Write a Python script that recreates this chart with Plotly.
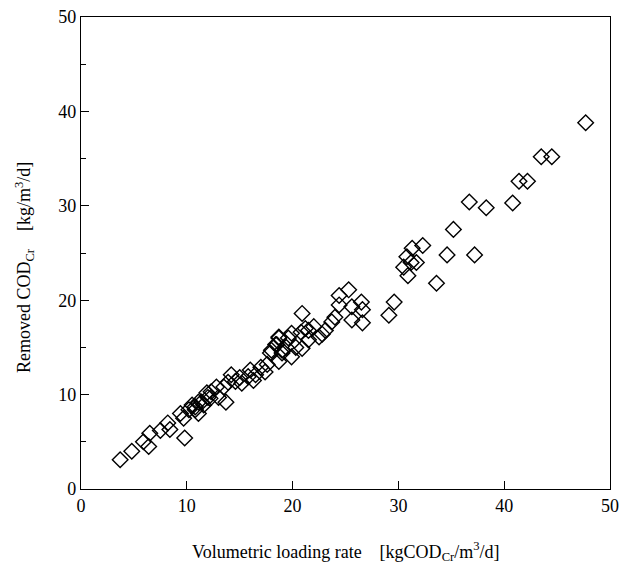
import plotly.graph_objects as go

loading_rate = [
    3.7, 4.8, 5.9, 6.4, 6.5, 7.5, 8.2, 8.4, 9.8, 9.4, 9.7, 10.2, 10.8, 11.1, 11.4, 11.9,
    10.5, 10.8, 11.1, 11.6, 12.0, 12.3, 12.8, 13.0, 13.5, 13.7, 13.9, 14.2, 15.2, 15.8,
    16.3, 16.5, 17.0, 17.4, 17.9, 18.4, 18.7, 18.7, 19.0, 14.6, 15.0, 12.2, 16.0, 17.6,
    18.0, 18.5, 18.7, 19.0, 19.4, 19.6, 19.9, 19.9, 20.3, 20.8, 20.9, 20.9, 21.5, 21.5,
    22.0, 22.5, 23.1, 23.7, 24.0, 24.4, 24.4, 25.3, 25.6, 25.6, 26.5, 26.6, 26.6, 21.2,
    22.8, 29.1, 29.6, 30.5, 30.8, 30.9, 31.2, 31.3, 31.7, 32.3, 33.6, 34.6, 35.2, 36.7,
    37.2, 38.3, 40.8, 41.4, 42.2, 43.5, 44.5, 47.7,
]
removed_cod = [
    3.1, 4.0, 5.0, 4.5, 5.9, 6.2, 7.0, 6.3, 5.4, 8.0, 7.5, 8.4, 8.7, 8.0, 9.2, 10.2,
    8.9, 8.4, 9.2, 8.9, 9.7, 10.3, 10.8, 9.7, 10.8, 9.2, 11.3, 12.1, 11.2, 11.9,
    11.5, 12.1, 12.9, 12.4, 14.4, 15.3, 16.1, 13.5, 14.7, 11.4, 11.8, 9.6, 12.6, 13.2,
    14.7, 15.3, 16.0, 14.4, 15.0, 16.0, 16.5, 14.0, 15.0, 16.6, 18.6, 14.9, 16.8, 15.8,
    17.2, 16.1, 16.8, 17.7, 18.2, 20.5, 19.5, 21.1, 19.3, 17.9, 19.8, 19.0, 17.6, 17.0,
    16.4, 18.4, 19.8, 23.5, 24.6, 22.6, 24.0, 25.5, 24.0, 25.8, 21.8, 24.8, 27.5, 30.4,
    24.8, 29.8, 30.3, 32.6, 32.6, 35.2, 35.2, 38.8,
]

x_ticks = [0, 10, 20, 30, 40, 50]
y_ticks = [0, 10, 20, 30, 40, 50]

FONT = "Liberation Serif, Times New Roman, serif"

fig = go.Figure()
fig.add_trace(go.Scatter(
    x=loading_rate, y=removed_cod, mode="markers",
    marker=dict(symbol="diamond-open", size=12, color="black", line=dict(width=1.4, color="black")),
    showlegend=False, cliponaxis=False,
))

axis_common = dict(
    showgrid=False, zeroline=False, showline=True, linecolor="black", linewidth=1.2,
    mirror=True, ticks="inside", ticklen=8, tickwidth=1, tickcolor="black", automargin=False,
    tickfont=dict(family=FONT, size=18, color="black"),
)
fig.update_xaxes(range=[0, 50], tickvals=x_ticks, ticktext=[str(v) for v in x_ticks], **axis_common)
fig.update_yaxes(range=[0, 50], tickvals=y_ticks, ticktext=[str(v) for v in y_ticks],
                 minor=dict(tickvals=[5, 15, 25, 35, 45], ticks="inside", ticklen=5, tickcolor="black"),
                 **axis_common)

fig.add_annotation(
    text="Removed COD<sub>Cr</sub>    [kg/m<sup>3</sup>/d]", xref="paper", yref="paper",
    x=-0.108, y=0.47, xanchor="center", yanchor="middle", textangle=-90, showarrow=False,
    font=dict(family=FONT, size=18, color="black"),
)
fig.add_annotation(
    text="Volumetric loading rate    [kgCOD<sub>Cr</sub>/m<sup>3</sup>/d]", xref="paper", yref="paper",
    x=0.5, y=-0.133, xanchor="center", yanchor="middle", showarrow=False,
    font=dict(family=FONT, size=18, color="black"),
)

fig.update_layout(
    width=621, height=567, margin=dict(l=81, r=11, t=17, b=78),
    paper_bgcolor="white", plot_bgcolor="white",
)

fig.write_html("out.html", config={"displayModeBar": False},
               post_script="document.body.style.margin='0';")
